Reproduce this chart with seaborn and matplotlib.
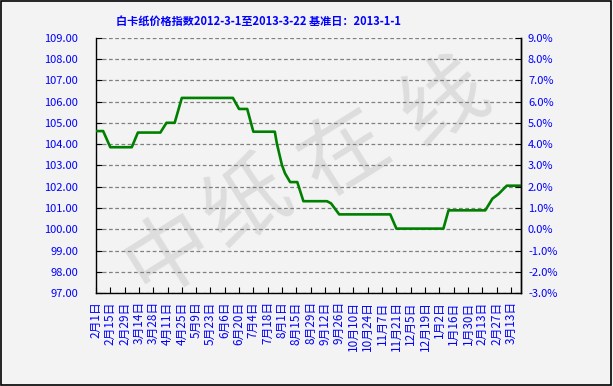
import pandas as pd
import matplotlib
matplotlib.use("Agg")
import matplotlib.pyplot as plt
from matplotlib.patches import Rectangle
import seaborn as sns

# index values (step-like weekly series)
dates = ["2012-02-01", "2012-02-08", "2012-02-15", "2012-03-07", "2012-03-13",
         "2012-04-04", "2012-04-10", "2012-04-18", "2012-04-25", "2012-06-14",
         "2012-06-20", "2012-06-28", "2012-07-04", "2012-07-25", "2012-07-27",
         "2012-07-30", "2012-08-01", "2012-08-04", "2012-08-09", "2012-08-16",
         "2012-08-22", "2012-09-14", "2012-09-18", "2012-09-26", "2012-11-15",
         "2012-11-21", "2013-01-06", "2013-01-11", "2013-02-16", "2013-02-23",
         "2013-03-01", "2013-03-09", "2013-03-23"]
index_values = [104.62, 104.62, 103.86, 103.86, 104.55,
                104.55, 105.01, 105.01, 106.18, 106.18,
                105.66, 105.66, 104.59, 104.59, 104.04,
                103.42, 103.02, 102.63, 102.22, 102.22,
                101.32, 101.32, 101.22, 100.70, 100.70,
                100.03, 100.03, 100.89, 100.89, 101.44,
                101.66, 102.05, 102.05]

tick_start = "2012-02-01"
tick_count = 30
title = "白卡纸价格指数2012-3-1至2013-3-22 基准日：2013-1-1"
watermark = ["中", "纸", "在", "线"]

blue = "#0000ff"
df = pd.DataFrame({"date": pd.to_datetime(dates), "value": index_values})

sns.set_theme(style="white")
plt.rcParams["font.family"] = ["Noto Sans CJK SC", "DejaVu Sans"]

fig = plt.figure(figsize=(6.13, 3.86), dpi=100, facecolor="#f3f3f3")
ax = fig.add_axes([0.1566, 0.2409, 0.85 - 0.1566, 0.9016 - 0.2409])
ax.set_facecolor("none")

# big watermark behind the plot
wm_pos = [(170, 255), (248, 205), (345, 155), (445, 103)]
for ch, (px, py) in zip(watermark, wm_pos):
    fig.text(px / 613, 1 - py / 386, ch, fontsize=62, color="#dddddd",
             rotation=32, ha="center", va="center", zorder=-1)

sns.lineplot(data=df, x="date", y="value", ax=ax, color="#008000",
             linewidth=1.9, zorder=3)

ax.set_ylim(97, 109)
ax.set_xlim(pd.Timestamp("2012-02-01"), pd.Timestamp("2013-03-23"))
ax.set_yticks(range(97, 110))
ax.set_yticklabels([f"{v:.2f}" for v in range(97, 110)], fontsize=8, color=blue)
ax.yaxis.grid(True, linestyle=(0, (3, 2)), color="#808080", linewidth=0.9)
ax.xaxis.grid(False)

ticks = pd.date_range(tick_start, periods=tick_count, freq="14D")
ax.set_xticks(ticks)
ax.set_xticklabels([f"{d.month}月{d.day}日" for d in ticks], rotation=90,
                   fontsize=8.5, color=blue)
ax.set_xlabel("")
ax.set_ylabel("")

ax.tick_params(axis="y", direction="in", length=4, width=0.8, color="black", pad=13, left=True)
ax.tick_params(axis="x", direction="in", length=4, width=0.8, color="black", pad=6, bottom=True)

for side in ["left", "bottom", "right"]:
    ax.spines[side].set_color("black")
    ax.spines[side].set_linewidth(1.0)
ax.spines["top"].set_visible(False)

ax2 = ax.twinx()
ax2.set_ylim(97 - 100, 109 - 100)
ax2.set_yticks(range(-3, 10))
ax2.set_yticklabels([f"{v:.1f}%" for v in range(-3, 10)], fontsize=8, color=blue)
ax2.tick_params(axis="y", direction="in", length=4, width=0.8, color="black", pad=5, right=True)
ax2.grid(False)
for side in ["left", "bottom", "top"]:
    ax2.spines[side].set_visible(False)
ax2.spines["right"].set_color("black")
ax2.spines["right"].set_linewidth(1.0)

fig.text(259 / 613, 1 - 21 / 386, title, fontsize=8, fontweight="bold",
         color=blue, ha="center", va="center")

fig.patches.append(Rectangle((0.001, 0.002), 0.996, 0.995, transform=fig.transFigure,
                             fill=False, edgecolor="black", linewidth=1.2))

fig.savefig("out.png", dpi=100, facecolor=fig.get_facecolor())
